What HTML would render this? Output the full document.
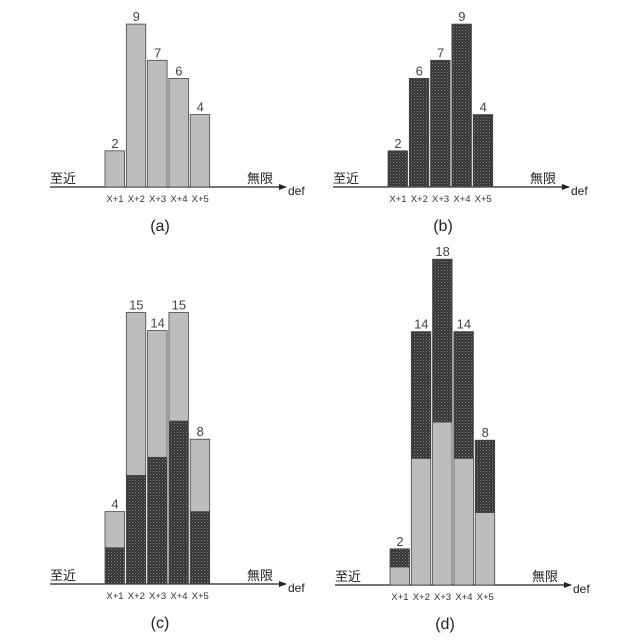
<!DOCTYPE html>
<html><head><meta charset="utf-8"><style>
html,body{margin:0;padding:0;background:#fff;}
svg{display:block;font-family:"Liberation Sans","Noto Sans CJK JP",sans-serif;}
</style></head><body>
<svg id="chart" width="640" height="640" viewBox="0 0 640 640">
<defs>
<pattern id="hatch" patternUnits="userSpaceOnUse" width="3" height="3">
<rect width="3" height="3" fill="#333"/>
<rect width="1" height="1" fill="#888"/>
<rect x="1.5" y="1.5" width="1" height="1" fill="#6a6a6a"/>
</pattern>
<marker id="arr" markerWidth="8" markerHeight="8" refX="7" refY="4" orient="auto" markerUnits="userSpaceOnUse">
<path d="M0,1 L8,4 L0,7 Z" fill="#222"/>
</marker>
</defs>
</svg>
<script>
const categories = ["X+1","X+2","X+3","X+4","X+5"];
const aGray = [2,9,7,6,4];
const bDark = [2,6,7,9,4];
const cDark = [2,6,7,9,4];
const cGray = [2,9,7,6,4];
const dGray = [1,7,9,7,4];
const dDark = [1,7,9,7,4];
const panelLabels = ["(a)","(b)","(c)","(d)"];

const svg = document.getElementById('chart');
const NS = 'http://www.w3.org/2000/svg';
const UNIT = 18.1;
function mk(tag, attrs, parent){
  const e = document.createElementNS(NS, tag);
  for (const k in attrs) e.setAttribute(k, attrs[k]);
  (parent||svg).appendChild(e);
  return e;
}
function panel(name, ox, oy, bottom, top, label){
  const g = mk('g', {});
  
  
  const y = v => oy - v*UNIT;
  const x = i => ox + 55 + i*21.3;
  const ax = mk('line', {x1: ox, y1: oy, x2: ox+236, y2: oy, stroke:'#222','stroke-width':1.3,'marker-end':'url(#arr)'}, g);
  
  
  const t1 = mk('text', {x: ox+238, y: oy+8, 'font-size':12, fill:'#222'}, g); t1.textContent='def';
  
  
  const t2 = mk('text', {x: ox, y: oy-4, 'font-size':13, fill:'#222'}, g); t2.textContent='至近';
  
  
  const t3 = mk('text', {x: ox+197, y: oy-4, 'font-size':13, fill:'#222'}, g); t3.textContent='無限';
  
  
  categories.forEach((c, i) => {
    const b = bottom.v[i], t = top ? top.v[i] : 0;
    const r1 = mk('rect', {x: x(i), y: y(b), width: 19.5, height: b*UNIT, fill: bottom.fill, stroke:'#444','stroke-width':0.8}, g);
    
    
    if (top){
      const r2 = mk('rect', {x: x(i), y: y(b+t), width: 19.5, height: t*UNIT, fill: top.fill, stroke:'#444','stroke-width':0.8}, g);
      
      
    }
    const vl = mk('text', {x: x(i)+10, y: y(b+t)-3, 'font-size':13, fill:'#444','text-anchor':'middle'}, g);
    vl.textContent = String(b+t);
    
    
    const cl = mk('text', {x: x(i)+10, y: oy+15, 'font-size':9.5, fill:'#333','text-anchor':'middle'}, g);
    cl.textContent = c;
    
    
  });
  const pl = mk('text', {x: ox+110, y: oy+44, 'font-size':16, fill:'#222','text-anchor':'middle'}, g);
  pl.textContent = label;
  
  
}
const GRAY = '#bdbdbd', DARK = 'url(#hatch)';
panel('panel-a', 50, 187, {v:aGray, fill:GRAY}, null, panelLabels[0]);
panel('panel-b', 333, 187, {v:bDark, fill:DARK}, null, panelLabels[1]);
panel('panel-c', 50, 584, {v:cDark, fill:DARK}, {v:cGray, fill:GRAY}, panelLabels[2]);
panel('panel-d', 335, 585, {v:dGray, fill:GRAY}, {v:dDark, fill:DARK}, panelLabels[3]);
</script>
</body></html>
